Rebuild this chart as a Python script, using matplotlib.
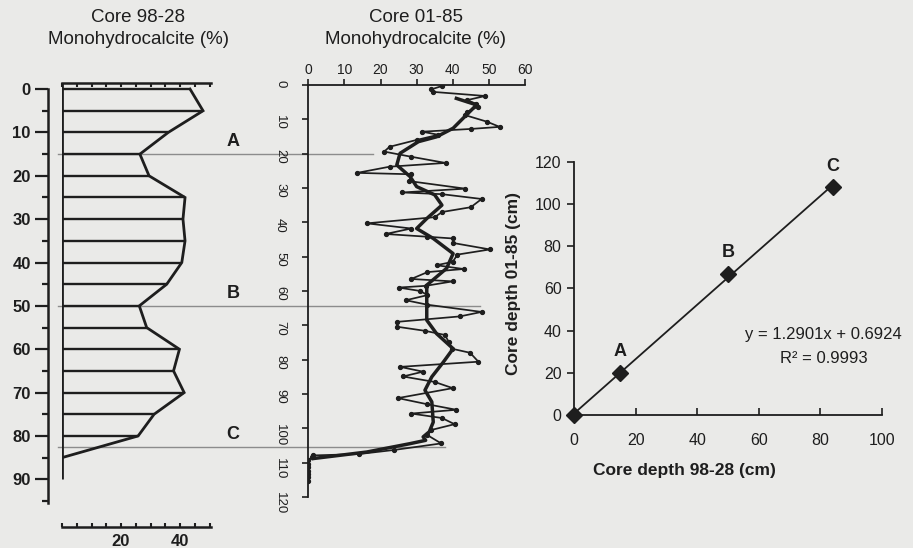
import matplotlib
matplotlib.use('Agg')
import matplotlib.pyplot as plt
import numpy as np
from matplotlib.transforms import blended_transform_factory
from matplotlib.ticker import MultipleLocator

plt.rcParams['font.family'] = ['Liberation Sans', 'DejaVu Sans']

# ---------------- data ----------------
# Core 98-28 monohydrocalcite profile
core9828_depth = [0, 5, 10, 15, 20, 25, 30, 35, 40, 45, 50, 55, 60, 65, 70, 75, 80, 85]
core9828_mhc = [43.4, 47.8, 36, 26.4, 29.5, 41.7, 41, 41.7, 40.6, 35.5, 26.2, 28.7,
                39.8, 37.8, 41.4, 31.2, 25.8, 0]

# Core 01-85 raw monohydrocalcite
core0185_depth = [0.3, 1.3, 2.0, 3.2, 4.4, 5.5, 6.3, 7.8, 8.8, 10.7, 12.2, 12.8, 13.6, 14.5,
                  16.0, 18.0, 19.4, 20.9, 22.7, 23.8, 25.6, 26.0, 28.0, 30.2, 31.3, 31.8,
                  33.2, 35.6, 37.0, 38.5, 40.3, 41.8, 43.4, 44.2, 44.7, 46.0, 47.9, 49.4,
                  51.5, 52.5, 53.6, 54.5, 56.5, 57.2, 58.5, 59.0, 60.0, 61.2, 62.7, 64.0,
                  66.1, 67.4, 69.0, 70.4, 71.6, 72.8, 75.0, 76.8, 78.0, 80.6, 82.1, 83.5,
                  84.9, 86.5, 88.3, 91.2, 93.0, 94.6, 95.7, 97.0, 98.8, 100.5, 102.0, 104.4,
                  106.3, 107.5, 107.9, 108.4, 109.3, 110.3, 111.3, 112.3, 113.3, 114.3, 115.3]
core0185_mhc = [37, 34, 34.5, 49, 44, 46.5, 47, 44, 43.5, 49.5, 53, 45, 31.5, 36,
                30, 22.5, 21, 28.5, 38, 22.5, 13.5, 28.5, 28, 43.5, 26, 37,
                48, 45, 37, 35, 16.2, 28.5, 21.4, 33, 40, 40, 50.3, 41.3,
                40, 35.5, 43, 33, 28.5, 40, 32.5, 25, 31, 33, 27, 33,
                48, 42, 24.5, 24.5, 32.3, 37.8, 39, 39.7, 44.8, 47.1, 25.4, 31.8,
                26.2, 35, 40, 24.8, 33, 41, 28.5, 37, 40.5, 34, 33, 36.8,
                23.8, 14, 1.2, 1.0, 0, 0, 0, 0, 0, 0, 0]

# Core 01-85 smoothed (running mean) curve
smooth_depth = [3.9, 5.8, 8.7, 12.6, 15.1, 16.5, 19.9, 23.3, 26.7, 29.6, 32.0, 35.0, 38.9,
                41.8, 44.7, 49.1, 53.4, 58.3, 61.2, 68.5, 72.4, 76.8, 80.7, 85.0, 88.9,
                92.3, 98.2, 101.0, 102.5, 103.5, 104.5, 106.9, 108.8]
smooth_mhc = [41, 46.6, 43.8, 40.1, 35.5, 30.5, 25.4, 24.5, 28.2, 30, 35, 37, 32.8,
              30, 34.6, 40.1, 38.3, 32.8, 32.8, 32.8, 35.5, 40.1, 37.4, 34.2, 32.3,
              34.2, 34.6, 33.5, 31.8, 32.5, 28, 16.2, 1.4]

# Tie points (depth in 98-28 used for correlation lines)
tie_labels = ['A', 'B', 'C']
tie_depth_9828 = [15, 50, 82.5]

# Depth-depth correlation
corr_x = [0, 15, 50, 84]
corr_y = [0, 20, 67, 108]
corr_labels = ['', 'A', 'B', 'C']

BG = '#eaeae8'
INK = '#1e1e1e'
GRID = '#8c8c8c'

fig = plt.figure(figsize=(9.13, 5.48), dpi=100)
fig.patch.set_facecolor(BG)

# ---------------- left panel: Core 98-28 ----------------
ax1 = fig.add_axes([0.0679, 0.0383, 0.1616, 0.8102])
ax1.set_facecolor('none')
ax1.set_xlim(0, 50)
ax1.set_ylim(101, -1.4)
ax1.hlines(core9828_depth, 0, core9828_mhc, color=INK, lw=1.7)
ax1.plot(core9828_mhc, core9828_depth, color=INK, lw=2.0, solid_joinstyle='miter')
ax1.vlines(0, -1.4, 90, color=INK, lw=2.0)

ax1.spines['right'].set_visible(False)
ax1.spines['left'].set_position(('outward', 10))
ax1.spines['left'].set_bounds(0, 95.5)
ax1.spines['top'].set_bounds(0, 50.5)
ax1.spines['bottom'].set_bounds(0, 50.5)
for s in ['left', 'top', 'bottom']:
    ax1.spines[s].set_linewidth(1.8)
    ax1.spines[s].set_color(INK)

ax1.set_yticks(range(0, 100, 10))
ax1.set_yticks(range(5, 100, 10), minor=True)
ax1.tick_params(axis='y', which='major', length=9.5, width=1.6, direction='out',
                labelsize=12, pad=3, colors=INK)
ax1.tick_params(axis='y', which='minor', length=4.5, width=1.6, direction='out', colors=INK)
ax1.set_xticks([0, 20, 40, 50])
ax1.set_xticklabels(['', '20', '40', ''])
ax1.xaxis.set_minor_locator(MultipleLocator(5))
ax1.tick_params(axis='x', which='both', direction='in', top=True, bottom=True,
                length=3, width=1.5, labelsize=12, pad=5, colors=INK)
for lbl in ax1.get_yticklabels() + ax1.get_xticklabels():
    lbl.set_fontweight('bold')

fig.text(138 / 913, 1 - 17 / 548, 'Core 98-28', ha='center', va='center', fontsize=13.5, color=INK)
fig.text(138 / 913, 1 - 40 / 548, 'Monohydrocalcite (%)', ha='center', va='center',
         fontsize=13.5, color=INK)

# ---------------- middle panel: Core 01-85 ----------------
ax2 = fig.add_axes([0.3377, 0.0931, 0.2373, 0.7518])
ax2.set_facecolor('none')
ax2.set_xlim(0, 60)
ax2.set_ylim(120, 0)
ax2.plot(core0185_mhc, core0185_depth, color=INK, lw=1.25, marker='o', ms=2.8)
ax2.plot(smooth_mhc, smooth_depth, color=INK, lw=2.5)
ax2.xaxis.tick_top()
ax2.set_xticks(range(0, 61, 10))
ax2.set_yticks(range(0, 121, 10))
ax2.spines['right'].set_visible(False)
ax2.spines['bottom'].set_visible(False)
for s in ['left', 'top']:
    ax2.spines[s].set_linewidth(1.3)
    ax2.spines[s].set_color(INK)
ax2.tick_params(axis='x', length=4, width=1.2, direction='out', labelsize=10, pad=1.5, colors=INK)
ax2.tick_params(axis='y', length=4, width=1.2, direction='out', labelsize=9.5, pad=12,
                colors=INK, labelrotation=-90)

fig.text(416 / 913, 1 - 17 / 548, 'Core 01-85', ha='center', va='center', fontsize=13.5, color=INK)
fig.text(415 / 913, 1 - 40 / 548, 'Monohydrocalcite (%)', ha='center', va='center',
         fontsize=13.5, color=INK)

# ---------------- correlation lines ----------------
trans = blended_transform_factory(fig.transFigure, ax1.transData)
line_ends = [373 / 913, 480 / 913, 445 / 913]
for lab, d, xe in zip(tie_labels, tie_depth_9828, line_ends):
    ax1.plot([58 / 913, xe], [d, d], color=GRID, lw=1.0, transform=trans, clip_on=False, zorder=0)
    ax1.annotate(lab, xy=(233 / 913, d), xycoords=trans, xytext=(0, 3),
                 textcoords='offset points', ha='center', va='bottom',
                 fontsize=13, fontweight='bold', color=INK, annotation_clip=False)

# ---------------- right panel: depth-depth ----------------
ax3 = fig.add_axes([0.6287, 0.2427, 0.3373, 0.4617])
ax3.set_facecolor('none')
ax3.set_xlim(0, 100)
ax3.set_ylim(0, 120)
fit = np.polyfit(corr_x, corr_y, 1)
xs = np.array([min(corr_x), max(corr_x)])
ax3.plot(xs, np.polyval(fit, xs), color=INK, lw=1.3)
ax3.plot(corr_x, corr_y, 'D', color=INK, ms=8, clip_on=False, zorder=3)
for x, y, lab in zip(corr_x, corr_y, corr_labels):
    if lab:
        ax3.annotate(lab, xy=(x, y), xytext=(0, 9), textcoords='offset points',
                     ha='center', va='bottom', fontsize=13, fontweight='bold', color=INK)
ax3.set_xticks(range(0, 101, 20))
ax3.set_yticks(range(0, 121, 20))
ax3.spines['right'].set_visible(False)
ax3.spines['top'].set_visible(False)
for s in ['left', 'bottom']:
    ax3.spines[s].set_linewidth(1.3)
    ax3.spines[s].set_color(INK)
ax3.tick_params(axis='y', length=5, width=1.2, direction='out', labelsize=11.5, pad=4, colors=INK)
ax3.tick_params(axis='x', length=5, width=1.2, direction='in', labelsize=11.5, pad=13, colors=INK)
ax3.set_xlabel('Core depth 98-28 (cm)', fontsize=12.5, fontweight='bold', color=INK)
ax3.xaxis.set_label_coords(0.36, -0.19)
ax3.set_ylabel('Core depth 01-85 (cm)', fontsize=12.5, fontweight='bold', color=INK)
ax3.yaxis.set_label_coords(-0.172, 0.52)
ax3.text(81, 38, 'y = 1.2901x + 0.6924', ha='center', va='center', fontsize=12, color=INK)
ax3.text(81, 27, 'R² = 0.9993', ha='center', va='center', fontsize=12, color=INK)

fig.savefig('out.png', dpi=100, facecolor=BG)
